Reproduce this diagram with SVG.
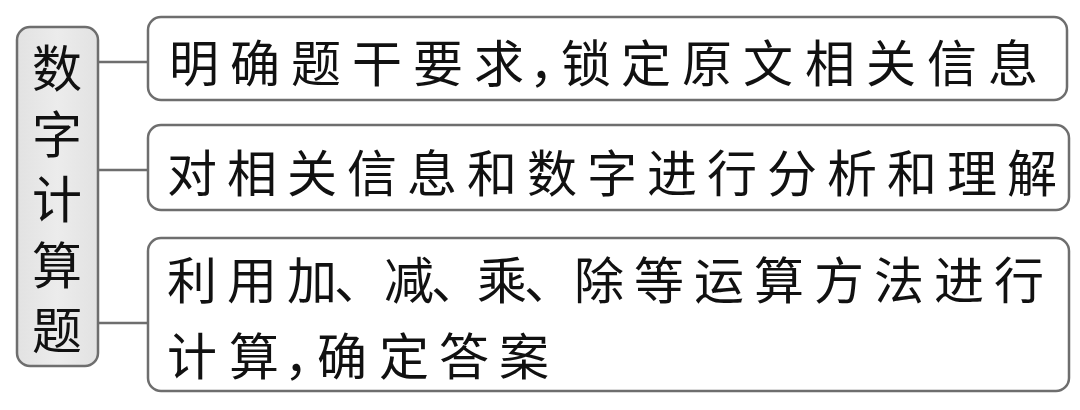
<svg xmlns="http://www.w3.org/2000/svg" width="1080" height="410" viewBox="0 0 1080 410">
<defs>
<linearGradient id="g" x1="0" y1="0" x2="1" y2="0">
<stop offset="0" stop-color="#e2e2e2"/>
<stop offset="0.5" stop-color="#ececec"/>
<stop offset="1" stop-color="#e2e2e2"/>
</linearGradient>
</defs>
<style>
.box{fill:#fff;stroke:#6e6e6e;stroke-width:2.5}
.root{fill:url(#g);stroke:#6e6e6e;stroke-width:2.5}
.conn{stroke:#6e6e6e;stroke-width:2.5;fill:none}
text{font-family:"Noto Sans CJK SC","Noto Sans CJK JP",sans-serif;font-size:50px;fill:#111;dominant-baseline:central}
.v{writing-mode:vertical-rl;letter-spacing:15.5px}
</style>
<rect width="1080" height="410" fill="#fff"/>
<g id="connectors">
<line class="conn" x1="98" y1="62" x2="148" y2="62"/>
<line class="conn" x1="98" y1="170" x2="148" y2="170"/>
<line class="conn" x1="98" y1="323" x2="148" y2="323"/>
</g>
<g id="root">
<rect class="root" x="17" y="27" width="81" height="339" rx="13"/>
<text class="v" x="57" y="43">数字计算题</text>
</g>
<g id="node1">
<rect class="box" x="148" y="17" width="919" height="83" rx="13"/>
<text x="169 230 291 352 413 474 529 561 621 682 743 805 866 927 988" y="60">明确题干要求，锁定原文相关信息</text>
</g>
<g id="node2">
<rect class="box" x="148" y="125" width="921" height="85" rx="13"/>
<text x="167 227 287 347 407 467 527 587 647 707 767 827 887 947 1007" y="170">对相关信息和数字进行分析和理解</text>
</g>
<g id="node3">
<rect class="box" x="148" y="238" width="921" height="153" rx="13"/>
<text x="167 227 287 334 384 431 477 524 574 634 694 754 814 874 934 994" y="277">利用加、减、乘、除等运算方法进行</text>
<text x="167 229 284 317 379 439 499" y="353">计算，确定答案</text>
</g>
</svg>
